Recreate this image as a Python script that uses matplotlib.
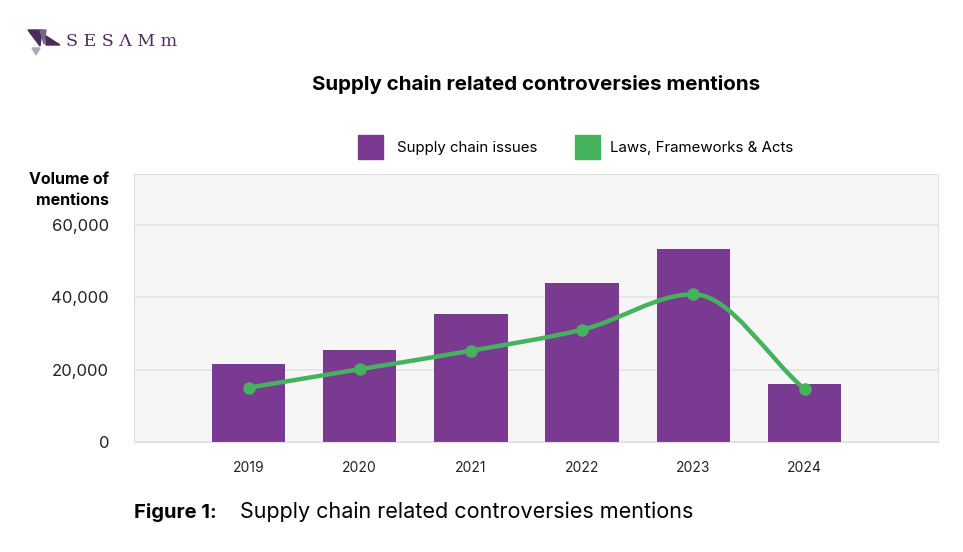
import matplotlib.pyplot as plt
from matplotlib.path import Path
from matplotlib.patches import PathPatch, Polygon, Rectangle

years = ["2019", "2020", "2021", "2022", "2023", "2024"]
supply_chain = [21500, 25400, 35300, 43900, 53200, 16000]
laws = [15000, 20100, 25200, 31000, 40800, 14600]

purple = "#7b3a92"
green = "#45b25d"

plt.rcParams["font.family"] = ["Inter", "DejaVu Sans"]

fig = plt.figure(figsize=(9.63, 5.52), dpi=100)
ax = fig.add_axes([134 / 963, 1 - 442 / 552, (938 - 134) / 963, (442 - 174) / 552])
ax.set_facecolor("#f5f6f5")

x = list(range(len(years)))
ax.bar(x, supply_chain, width=0.66, color=purple, zorder=2)

# smooth line: monotone cubic tangents drawn as bezier segments
n = len(x)
d = [(laws[i + 1] - laws[i]) / (x[i + 1] - x[i]) for i in range(n - 1)]
m = [d[0]] + [0.0] * (n - 2) + [d[-1]]
for i in range(1, n - 1):
    if d[i - 1] * d[i] > 0:
        m[i] = 2 / (1 / d[i - 1] + 1 / d[i])
verts = [(x[0], laws[0])]
codes = [Path.MOVETO]
for i in range(n - 1):
    h = x[i + 1] - x[i]
    verts += [(x[i] + h / 3, laws[i] + m[i] * h / 3),
              (x[i + 1] - h / 3, laws[i + 1] - m[i + 1] * h / 3),
              (x[i + 1], laws[i + 1])]
    codes += [Path.CURVE4] * 3
ax.add_patch(PathPatch(Path(verts, codes), facecolor="none", edgecolor=green,
                       lw=3.2, zorder=3, capstyle="round"))
ax.plot(x, laws, "o", color=green, ms=8, zorder=4)

ax.set_xlim(-1.03, 6.2)
ax.set_ylim(0, 74000)
ax.set_yticks([0, 20000, 40000, 60000])
ax.set_yticklabels(["0", "20,000", "40,000", "60,000"])
ax.set_xticks(x)
ax.set_xticklabels(years)
ax.grid(axis="y", color="#e2e3e2", lw=1.2, zorder=1)
ax.tick_params(length=0, labelsize=12, colors="#222222", pad=18)
ax.tick_params(axis="x", labelsize=10, pad=14)
for s in ax.spines.values():
    s.set_color("#e0e0e0")

fig.text(109 / 963, 1 - 180 / 552, "Volume of", ha="right", va="center",
         fontsize=11.5, fontweight="bold")
fig.text(109 / 963, 1 - 200 / 552, "mentions", ha="right", va="center",
         fontsize=11.5, fontweight="bold")

fig.text(536 / 963, 1 - 85 / 552, "Supply chain related controversies mentions",
         ha="center", va="center", fontsize=14.8, fontweight="bold")

# legend
fig.patches.append(Rectangle((358 / 963, 1 - 159 / 552), 25 / 963, 24 / 552,
                             transform=fig.transFigure, color=purple))
fig.text(397 / 963, 1 - 148 / 552, "Supply chain issues", va="center", fontsize=10.8)
fig.patches.append(Rectangle((575 / 963, 1 - 159 / 552), 25 / 963, 24 / 552,
                             transform=fig.transFigure, color=green))
fig.text(610 / 963, 1 - 148 / 552, "Laws, Frameworks & Acts", va="center", fontsize=10.8)

# caption
fig.text(134 / 963, 1 - 512 / 552, "Figure 1:", va="center", fontsize=14.5, fontweight="bold")
fig.text(240 / 963, 1 - 512 / 552, "Supply chain related controversies mentions",
         va="center", fontsize=15.5)

# logo
logo = "#4b2a5c"
for poly, col in [([(28, 30), (42, 30), (40, 46)], logo),
                  ([(40, 30), (46, 30), (44, 44)], "#7a6585"),
                  ([(46, 36), (60, 45), (46, 45)], logo),
                  ([(32, 48), (40, 48), (36, 55)], "#b5a8bb")]:
    fig.patches.append(Polygon([(px / 963, 1 - py / 552) for px, py in poly],
                               transform=fig.transFigure, color=col))
fig.text(66 / 963, 1 - 42 / 552, "S E S Λ M m", va="center", fontsize=12.5,
         color=logo, family="DejaVu Serif")

fig.savefig("out.png", dpi=100, facecolor="white")
